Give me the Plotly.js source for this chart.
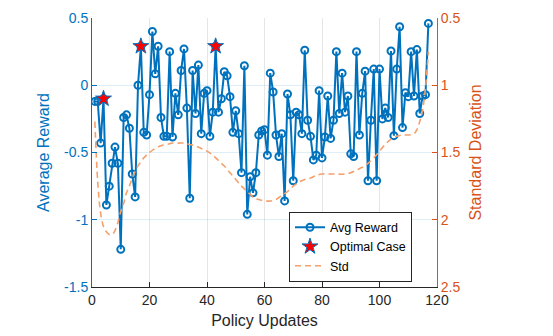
<!DOCTYPE html>
<html>
<head>
<meta charset="utf-8">
<script src="https://cdn.plot.ly/plotly-3.0.1.min.js"></script>
<style>
  html, body { margin: 0; padding: 0; background: #fff; }
  #chart { width: 553px; height: 336px; }
</style>
</head>
<body>
<div id="chart"></div>
<script>
// Avg reward per policy update (x = 1..117)
const avgReward = [
  -0.12, -0.12, -0.43, -0.10, -0.89, -0.75, -0.58, -0.46, -0.58, -1.22,
  -0.24, -0.22, -0.32, -0.66, -0.83, 0.00, 0.29, -0.35, -0.37, -0.07,
  0.40, 0.085, 0.29, -0.24, -0.38, -0.38, 0.25, -0.385, -0.06, -0.22,
  0.11, 0.27, -0.17, -0.84, 0.11, -0.21, 0.15, -0.36, -0.06, -0.04,
  -0.38, -0.20, 0.29, -0.20, -0.10, 0.10, 0.07, -0.085, -0.35, -0.19,
  -0.36, -0.65, 0.145, -0.96, -0.68, -0.80, -0.65, -0.37, -0.34, -0.33,
  -0.52, 0.09, -0.05, -0.37, -0.53, -0.36, -0.86, -0.065, -0.22, -0.71,
  -0.20, -0.22, -0.36, 0.26, -0.26, -0.38, -0.555, -0.52, -0.04, -0.54,
  -0.385, -0.08, -0.395, -0.26, 0.25, -0.21, 0.09, -0.20, -0.08, -0.51,
  -0.53, 0.25, -0.37, -0.06, 0.105, -0.71, -0.26, 0.12, -0.71, 0.12,
  -0.25, -0.17, -0.24, 0.255, -0.375, 0.12, 0.435, -0.315, -0.055, -0.085,
  0.25, -0.08, 0.265, -0.21, -0.08, -0.07, 0.46
];
const updates = avgReward.map((_, i) => i + 1);

// updates flagged as optimal
const optimalUpdates = [4, 17, 43];

// smoothed std (right axis)
const stdX = [1, 2, 3, 4, 5, 6, 7, 8, 9, 10, 11, 12, 13, 14, 15, 16, 17, 18, 19, 20,
  22, 24, 26, 28, 30, 32, 34, 36, 38, 40, 42, 44, 46, 48, 50, 52, 54, 56, 58, 60,
  62, 64, 66, 68, 70, 72, 74, 76, 78, 80, 84, 88, 90, 92, 94, 96, 98, 100, 102, 104,
  106, 108, 110, 112, 113, 114, 115, 116, 117];
const stdY = [1.27, 1.72, 1.95, 2.05, 2.09, 2.11, 2.11, 2.08, 2.02, 1.94, 1.88, 1.80, 1.75, 1.69, 1.64, 1.60, 1.57, 1.54, 1.52, 1.50,
  1.47, 1.45, 1.44, 1.43, 1.43, 1.43, 1.44, 1.45, 1.47, 1.49, 1.52, 1.56, 1.60, 1.65, 1.70, 1.75, 1.79, 1.83, 1.85, 1.86,
  1.86, 1.85, 1.82, 1.79, 1.75, 1.72, 1.70, 1.69, 1.67, 1.66, 1.66, 1.66, 1.65, 1.63, 1.61, 1.58, 1.54, 1.49, 1.44, 1.40,
  1.38, 1.37, 1.37, 1.36, 1.33, 1.27, 1.18, 1.02, 0.75];

const leftTicks = [-1.5, -1, -0.5, 0, 0.5];
const rightTicks = [0.5, 1, 1.5, 2, 2.5];
const xTicks = [0, 20, 40, 60, 80, 100, 120];

const blue = '#0072BD';
const orange = '#D95319';
const font = 'Liberation Sans, Arial, sans-serif';

const traces = [
  {
    x: updates, y: avgReward, name: 'Avg Reward',
    mode: 'lines+markers',
    line: { color: blue, width: 2 },
    marker: { symbol: 'circle-open', size: 7, color: blue, line: { width: 2 } },
  },
  {
    x: optimalUpdates, y: optimalUpdates.map(u => avgReward[u - 1]), name: 'Optimal Case',
    mode: 'markers',
    marker: { symbol: 'star', size: 12, color: '#FF0000', line: { color: blue, width: 1 } },
  },
  {
    x: stdX, y: stdY, name: 'Std', yaxis: 'y2',
    mode: 'lines',
    line: { color: '#F5A06C', width: 1.6, dash: '6px,4px', shape: 'spline' },
  },
];

const layout = {
  width: 553, height: 336,
  margin: { l: 92, r: 116, t: 18, b: 49 },
  paper_bgcolor: '#fff', plot_bgcolor: '#fff',
  font: { family: font, size: 14, color: '#262626' },
  showlegend: true,
  legend: {
    x: 0.571, y: 0.02, xanchor: 'left', yanchor: 'bottom',
    bgcolor: '#fff', bordercolor: '#262626', borderwidth: 1,
    font: { size: 12.5, color: '#000' },
    tracegroupgap: 0, itemwidth: 30,
  },
  xaxis: {
    range: [0, 120], tickvals: xTicks, ticktext: xTicks.map(String),
    ticks: 'inside', ticklen: 5, tickcolor: '#262626',
    showline: true, linecolor: '#262626', linewidth: 1,
    showgrid: true, gridcolor: '#E6E6E6', zeroline: false,
    title: { text: 'Policy Updates', font: { size: 16, color: '#262626' }, standoff: 8 },
  },
  yaxis: {
    range: [-1.5, 0.5], tickvals: leftTicks, ticktext: leftTicks.map(String),
    ticks: 'inside', ticklen: 5, tickcolor: blue,
    tickfont: { color: blue },
    showline: true, linecolor: blue, linewidth: 1,
    showgrid: true, gridcolor: 'rgba(0,114,189,0.13)', zeroline: false,
    title: { text: 'Average Reward', font: { size: 16, color: blue }, standoff: 10 },
  },
  yaxis2: {
    overlaying: 'y', side: 'right', anchor: 'x',
    range: [2.5, 0.5], tickvals: rightTicks, ticktext: rightTicks.map(String),
    ticks: 'inside', ticklen: 5, tickcolor: orange,
    tickfont: { color: orange },
    showline: true, linecolor: orange, linewidth: 1,
    showgrid: false, zeroline: false,
    title: { text: 'Standard Deviation', font: { size: 16, color: orange }, standoff: 10 },
  },
};

Plotly.newPlot('chart', traces, layout, { displayModeBar: false, staticPlot: true });
</script>
</body>
</html>
